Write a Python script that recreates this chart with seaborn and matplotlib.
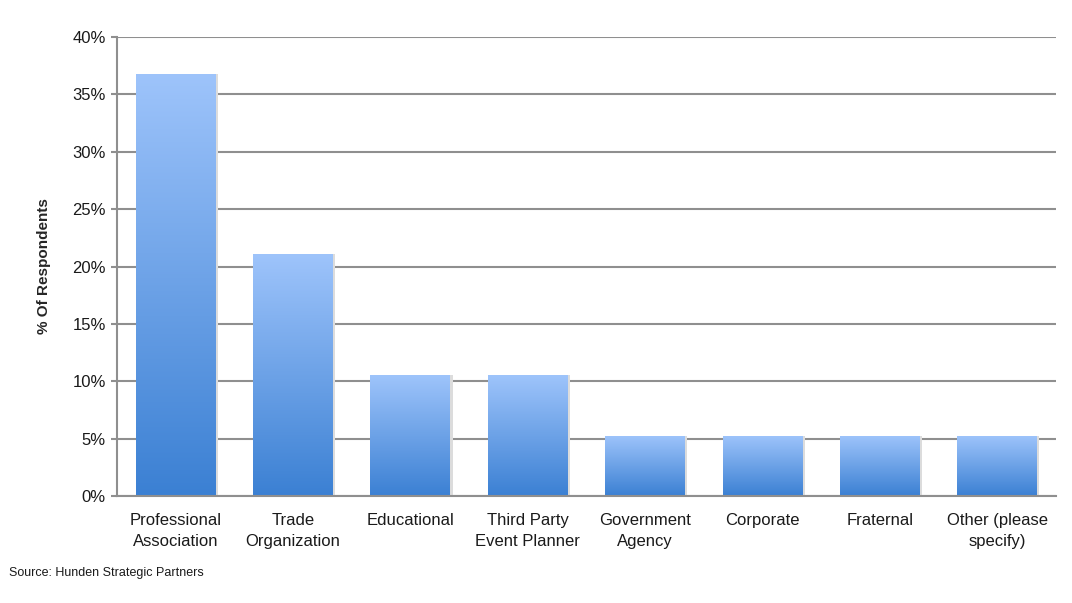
import matplotlib.pyplot as plt
import matplotlib.colors as mcolors
import numpy as np
import pandas as pd
import seaborn as sns

categories = [
    "Professional\nAssociation",
    "Trade\nOrganization",
    "Educational",
    "Third Party\nEvent Planner",
    "Government\nAgency",
    "Corporate",
    "Fraternal",
    "Other (please\nspecify)",
]
share = [0.368, 0.2105, 0.1053, 0.1053, 0.0526, 0.0526, 0.0526, 0.0526]
yticks = [0, 0.05, 0.10, 0.15, 0.20, 0.25, 0.30, 0.35, 0.40]

df = pd.DataFrame({"category": categories, "share": share})

sns.set_style("white")
plt.rcParams["font.family"] = ["Liberation Sans", "DejaVu Sans"]

fig = plt.figure(figsize=(10.72, 6.03), dpi=100)
ax = fig.add_axes([0.109, 0.1774, 0.876, 0.7612])

sns.barplot(data=df, x="category", y="share", color="#6fa3e8", width=0.68, ax=ax, zorder=2)

# vertical gradient per bar: light on top, darker at bottom
cmap = mcolors.LinearSegmentedColormap.from_list("bar", ["#3b80d3", "#9ec4fb"])
grad = np.linspace(0, 1, 256).reshape(-1, 1)
for patch in ax.patches:
    x, w, h = patch.get_x(), patch.get_width(), patch.get_height()
    # soft shadow on the right
    ax.add_patch(plt.Rectangle((x + w, 0), 0.02, h, color="#dcdcdc", zorder=1.5, lw=0))
    im = ax.imshow(grad, cmap=cmap, origin="lower", aspect="auto",
                   extent=[x, x + w, 0, h], zorder=2.5)
    im.set_clip_path(patch)
    patch.set_facecolor("none")
    patch.set_edgecolor("none")

ax.set_xlim(-0.5, len(categories) - 0.5)
ax.set_ylim(0, 0.40)
ax.set_yticks(yticks)
ax.set_yticklabels([f"{int(round(t * 100))}%" for t in yticks])
ax.yaxis.grid(True, color="#8f8f8f", lw=1.5, zorder=0)
ax.set_axisbelow(True)

for side in ["top", "right"]:
    ax.spines[side].set_visible(False)
for side in ["left", "bottom"]:
    ax.spines[side].set_color("#8f8f8f")
    ax.spines[side].set_linewidth(1.5)

ax.tick_params(axis="y", left=True, length=4, width=1.5, color="#8f8f8f",
               labelsize=12, pad=4, labelcolor="#1a1a1a")
ax.tick_params(axis="x", bottom=False, labelsize=12, pad=9, labelcolor="#1a1a1a")
for lab in ax.get_xticklabels():
    lab.set_linespacing(1.45)

ax.set_xlabel("")
ax.set_ylabel("% Of Respondents", fontsize=11, fontweight="bold", labelpad=15)

fig.text(0.008, 0.045, "Source: Hunden Strategic Partners", fontsize=9, color="#1a1a1a")

fig.savefig("out.png", dpi=100)
